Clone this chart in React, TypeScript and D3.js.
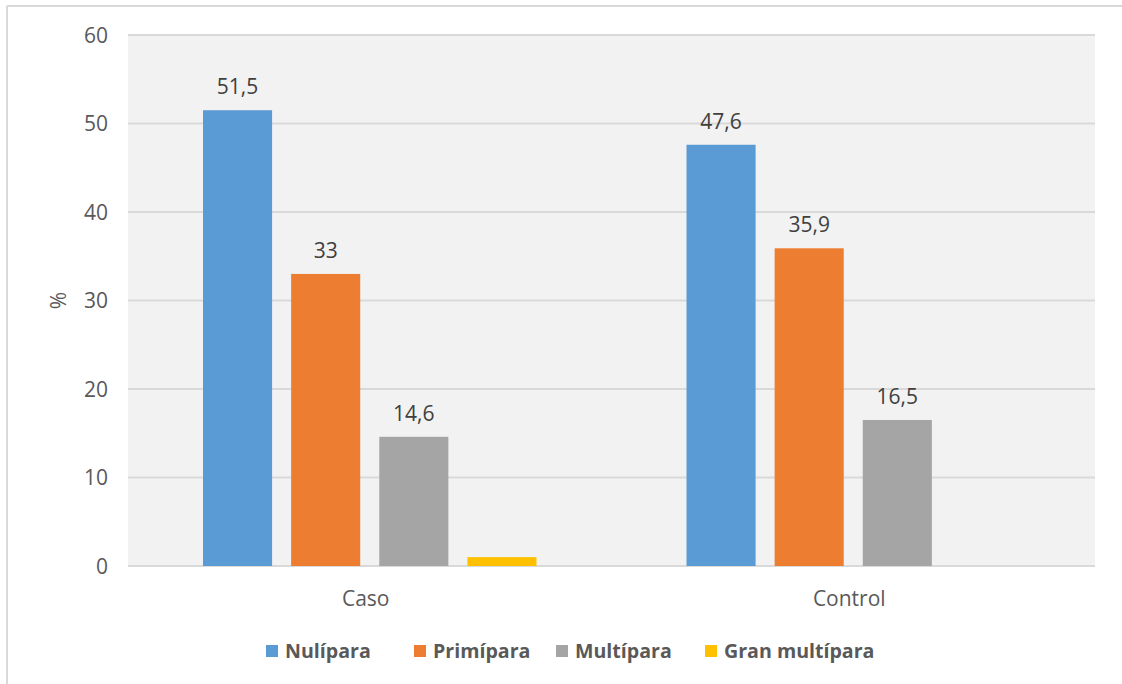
import React, { useEffect, useRef } from "react";
import * as d3 from "d3";

// Parity distribution (%) by study group
const groups = ["Caso", "Control"];
const seriesNames = ["Nulípara", "Primípara", "Multípara", "Gran multípara"];
const nulipara = [51.5, 47.6];
const primipara = [33, 35.9];
const multipara = [14.6, 16.5];
const granMultipara = [1, null];
const valueLabels = [
  ["51,5", "47,6"],
  ["33", "35,9"],
  ["14,6", "16,5"],
  [null, null],
];
const yTicks = [0, 10, 20, 30, 40, 50, 60];
const colors = ["#5b9bd5", "#ed7d31", "#a5a5a5", "#ffc000"];

const W = 1122;
const H = 684;
const plot = { left: 128, right: 1095, top: 35, bottom: 566 };
const legendX = [266, 414, 556, 705];
const FONT = "'Open Sans', 'Noto Sans', sans-serif";

export default function App() {
  const ref = useRef<SVGSVGElement | null>(null);

  useEffect(() => {
    const svg = d3.select(ref.current);
    svg.selectAll("*").remove();

    const series = [nulipara, primipara, multipara, granMultipara];

    // frame lines (top and left edges of the chart area)
    svg.append("line").attr("x1", 7).attr("x2", W).attr("y1", 6).attr("y2", 6)
      .attr("stroke", "#d9d9d9").attr("stroke-width", 2);
    svg.append("line").attr("x1", 7).attr("x2", 7).attr("y1", 6).attr("y2", H)
      .attr("stroke", "#d9d9d9").attr("stroke-width", 2);

    const x0 = d3.scaleBand<string>().domain(groups).range([plot.left, plot.right]);
    const inner = d3.scaleBand<string>()
      .domain(seriesNames)
      .range([75, x0.bandwidth() - 75])
      .paddingInner(0.216)
      .paddingOuter(0);
    const y = d3.scaleLinear().domain([0, 60]).range([plot.bottom, plot.top]);

    // plot background
    svg.append("rect")
      .attr("x", plot.left).attr("y", plot.top)
      .attr("width", plot.right - plot.left).attr("height", plot.bottom - plot.top)
      .attr("fill", "#f2f2f2");

    // gridlines
    svg.append("g").selectAll("line").data(yTicks).join("line")
      .attr("x1", plot.left).attr("x2", plot.right)
      .attr("y1", (d) => y(d)).attr("y2", (d) => y(d))
      .attr("stroke", "#d9d9d9").attr("stroke-width", 2);

    // y tick labels
    svg.append("g").selectAll("text").data(yTicks).join("text")
      .attr("x", 108).attr("y", (d) => y(d))
      .attr("dy", "0.36em")
      .attr("text-anchor", "end")
      .attr("font-family", FONT).attr("font-size", 21)
      .attr("fill", "#595959")
      .text((d) => String(d));

    // y axis title
    svg.append("text")
      .attr("transform", `translate(66, ${(plot.top + plot.bottom) / 2}) rotate(-90)`)
      .attr("text-anchor", "middle")
      .attr("font-family", FONT).attr("font-size", 21)
      .attr("fill", "#595959")
      .text("%");

    // bars and value labels
    series.forEach((vals, si) => {
      const g = svg.append("g");
      vals.forEach((v, gi) => {
        if (v == null) return;
        const bx = (x0(groups[gi]) as number) + (inner(seriesNames[si]) as number);
        g.append("rect")
          .attr("x", bx).attr("y", y(v))
          .attr("width", inner.bandwidth()).attr("height", y(0) - y(v))
          .attr("fill", colors[si]);
        const lbl = valueLabels[si][gi];
        if (lbl) {
          g.append("text")
            .attr("x", bx + inner.bandwidth() / 2).attr("y", y(v) - 16)
            .attr("text-anchor", "middle")
            .attr("font-family", FONT).attr("font-size", 21)
            .attr("fill", "#404040")
            .text(lbl);
        }
      });
    });

    // category labels
    svg.append("g").selectAll("text").data(groups).join("text")
      .attr("x", (d) => (x0(d) as number) + x0.bandwidth() / 2 - 4)
      .attr("y", 606)
      .attr("text-anchor", "middle")
      .attr("font-family", FONT).attr("font-size", 21)
      .attr("fill", "#595959")
      .text((d) => d);

    // legend
    const lg = svg.append("g");
    seriesNames.forEach((name, i) => {
      lg.append("rect")
        .attr("x", legendX[i]).attr("y", 645)
        .attr("width", 12).attr("height", 12)
        .attr("fill", colors[i]);
      lg.append("text")
        .attr("x", legendX[i] + 19).attr("y", 658)
        .attr("font-family", FONT).attr("font-size", 19.6).attr("font-weight", 700)
        .attr("fill", "#595959")
        .text(name);
    });
  }, []);

  return (
    <svg
      ref={ref}
      width={W}
      height={H}
      style={{ position: "absolute", left: 0, top: 0, background: "#ffffff" }}
    />
  );
}
